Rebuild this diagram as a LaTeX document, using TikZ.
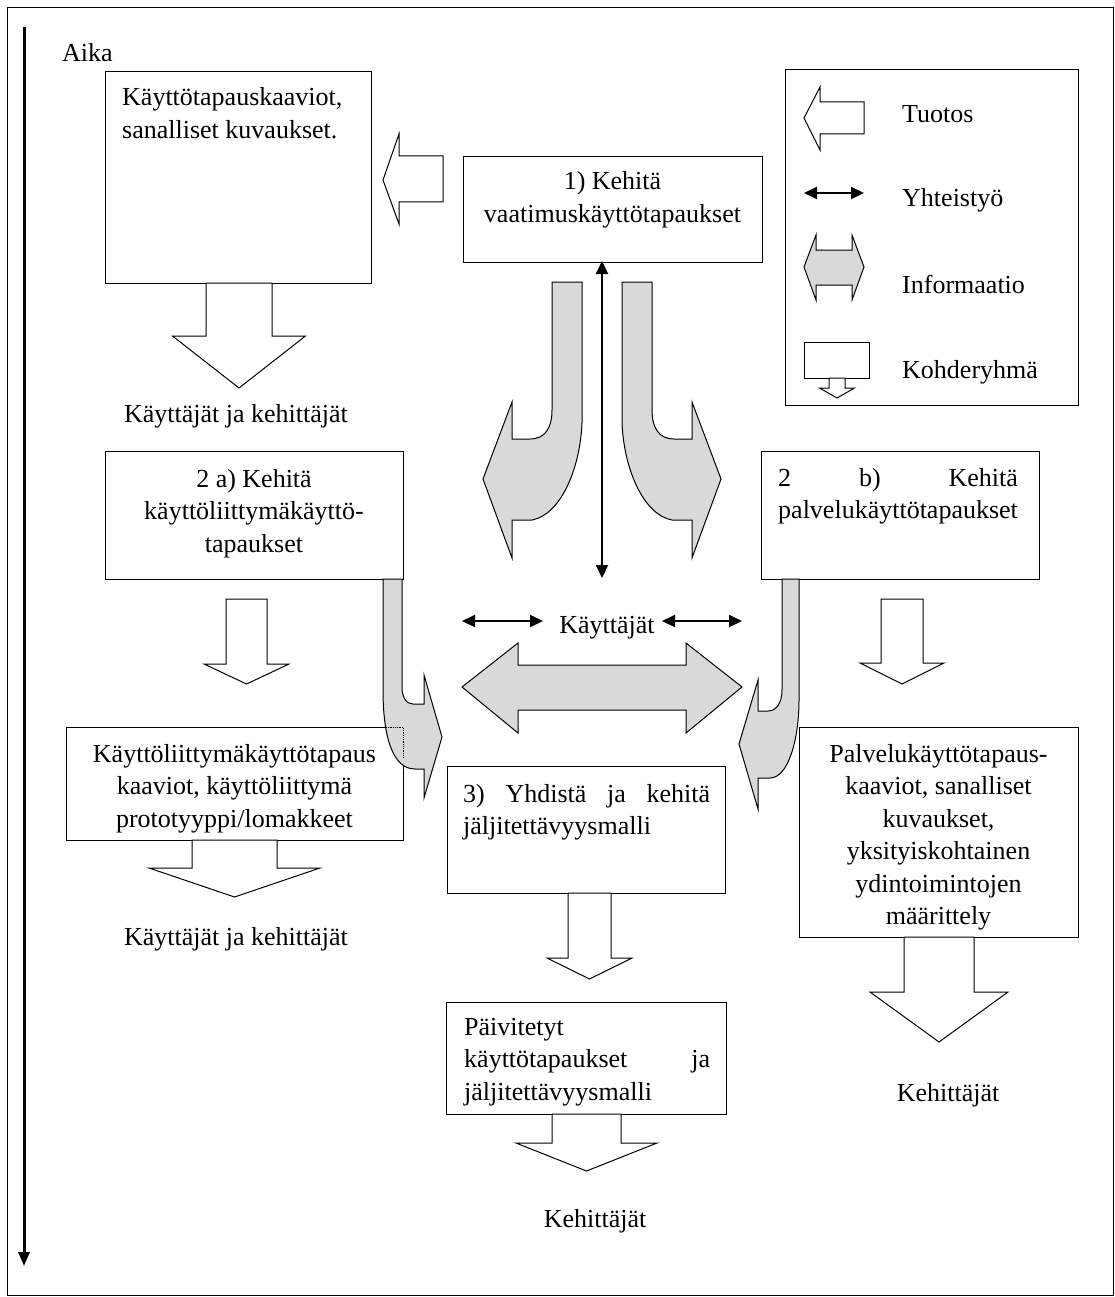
\documentclass[tikz,border=0pt]{standalone}
\usepackage{fontspec}
\setmainfont{Liberation Serif}
\usetikzlibrary{arrows.meta,calc}

% block arrow pointing down: #1 top centre, #2 half shaft width,
% #3 shaft length, #4 half head width, #5 head length
\newcommand{\blockdown}[5]{%
  \draw[blockarrow] ($(#1)+(-#2,0)$) -- ($(#1)+(-#2,#3)$) -- ($(#1)+(-#4,#3)$)
    -- ($(#1)+(0,#3+#5)$) -- ($(#1)+(#4,#3)$) -- ($(#1)+(#2,#3)$)
    -- ($(#1)+(#2,0)$) -- cycle;}

\begin{document}
\begin{tikzpicture}[x=1pt,y=-1pt,
  box/.style={draw,line width=1.1pt,fill=white,inner sep=0pt,anchor=north west},
  lbl/.style={inner sep=0pt,font=\fontsize{26}{32.5}\selectfont},
  blockarrow/.style={draw,line width=1pt,fill=white,line join=miter},
  infoarrow/.style={draw,line width=1pt,fill=gray!30,line join=miter},
  collab/.style={line width=2pt,{Triangle[length=13pt,width=12pt]}-{Triangle[length=13pt,width=12pt]}},
]
\useasboundingbox (0,0) rectangle (1115,1297);
\fill[white] (0,0) rectangle (1115,1297);
\draw[line width=1pt] (7,8) rectangle (1113,1295);

% time axis
\coordinate (t0) at (24,27);
\coordinate (t1) at (24,1266);
\draw[line width=3pt,-{Triangle[length=14pt,width=11pt]}] (t0) -- (t1);
\node[lbl,anchor=base west] (aika) at (62,62) {Aika};

% boxes
\node[box,minimum width=266pt,minimum height=212pt] (boxA) at (105,71) {};
\node[box,minimum width=299pt,minimum height=106pt] (box1) at (463,156) {};
\node[box,minimum width=298pt,minimum height=128pt] (box2a) at (105,451) {};
\node[box,minimum width=278pt,minimum height=128pt] (box2b) at (761,451) {};
\node[box,minimum width=337pt,minimum height=113pt] (boxUI) at (66,727) {};
\node[box,minimum width=278pt,minimum height=127pt] (box3) at (447,766) {};
\node[box,minimum width=279pt,minimum height=210pt] (boxPal) at (799,727) {};
\node[box,minimum width=280pt,minimum height=112pt] (boxUpd) at (446,1002) {};
\node[box,minimum width=293pt,minimum height=336pt] (legend) at (785,69) {};

% box texts
\node[lbl,anchor=base west] (txtA) at (122,106)
  {\begin{tabular}[t]{@{}l@{}}Käyttötapauskaaviot,\\sanalliset kuvaukset.\end{tabular}};
\node[lbl,anchor=base] (txt1) at (612.5,190)
  {\begin{tabular}[t]{@{}c@{}}1) Kehitä\\vaatimuskäyttötapaukset\end{tabular}};
\node[lbl,anchor=base] (txt2a) at (254,487)
  {\begin{tabular}[t]{@{}c@{}}2 a) Kehitä\\käyttöliittymäkäyttö-\\tapaukset\end{tabular}};
\node[lbl,anchor=base west] (txt2b) at (778,486)
  {\setbox0\hbox{palvelukäyttötapaukset}%
   \begin{tabular}[t]{@{}l@{}}\makebox[\wd0][s]{2\hfill b)\hfill Kehitä}\\\box0\end{tabular}};
\node[lbl,anchor=base] (txtUI) at (234.5,762)
  {\begin{tabular}[t]{@{}c@{}}Käyttöliittymäkäyttötapaus\\kaaviot, käyttöliittymä\\prototyyppi/lomakkeet\end{tabular}};
\node[lbl,anchor=base west] (txt3) at (463,802)
  {\begin{tabular}[t]{@{}l@{}}\makebox[247pt][s]{3)\hfill Yhdistä\hfill ja\hfill kehitä}\\jäljitettävyysmalli\end{tabular}};
\node[lbl,anchor=base] (txtPal) at (938.5,762)
  {\begin{tabular}[t]{@{}c@{}}Palvelukäyttötapaus-\\kaaviot, sanalliset\\kuvaukset,\\yksityiskohtainen\\ydintoimintojen\\määrittely\end{tabular}};
\node[lbl,anchor=base west] (txtUpd) at (464,1035)
  {\begin{tabular}[t]{@{}l@{}}Päivitetyt\\\makebox[246pt][s]{käyttötapaukset\hfill ja}\\jäljitettävyysmalli\end{tabular}};

% target group labels
\node[lbl,anchor=base] (grpA) at (236,422) {Käyttäjät ja kehittäjät};
\node[lbl,anchor=base] (grpUI) at (236,945) {Käyttäjät ja kehittäjät};
\node[lbl,anchor=base] (grpPal) at (948,1101) {Kehittäjät};
\node[lbl,anchor=base] (grpUpd) at (595,1227) {Kehittäjät};
\node[lbl,anchor=base] (kay) at (607,633) {Käyttäjät};

% output arrow from step 1 to its results
\draw[blockarrow] (443,156) -- (399,156) -- (399,134) -- (383,180) -- (399,224)
  -- (399,202) -- (443,202) -- cycle;

% target group arrows
\coordinate (dA) at (239,283);
\coordinate (d2a) at (246.5,599);
\coordinate (dUI) at (234.5,840);
\coordinate (d2b) at (902,599);
\coordinate (dPal) at (939,937);
\coordinate (d3) at (589.5,893);
\coordinate (dUpd) at (586.5,1114);
\blockdown{dA}{33}{53}{66.5}{52}
\blockdown{d2a}{20.5}{65}{42.5}{20}
\blockdown{dUI}{42.5}{28}{85.5}{29}
\blockdown{d2b}{21}{64}{42}{21}
\blockdown{dPal}{35}{55}{69}{50}
\blockdown{d3}{21.5}{65}{42.5}{21}
\blockdown{dUpd}{34.5}{29}{70.5}{28}

% information flow from step 1 towards steps 2 a) and 2 b)
\draw[infoarrow] (552,282) -- (552,410) .. controls (552,428) and (545,439) .. (530,439)
  -- (512,439) -- (512,402) -- (483,479) -- (512,558) -- (512,520) -- (532,520)
  .. controls (560,515) and (580,470) .. (582,423) -- (582,282) -- cycle;
\draw[infoarrow] (652,282) -- (652,410) .. controls (652,428) and (659,439) .. (674,439)
  -- (692,439) -- (692,402) -- (721,479) -- (692,558) -- (692,520) -- (672,520)
  .. controls (644,515) and (624,470) .. (622,423) -- (622,282) -- cycle;

% information flow from steps 2 a) and 2 b) towards step 3
\draw[infoarrow] (383,579) -- (383,690) .. controls (383,735) and (392,769) .. (415,769)
  -- (424,769) -- (424,798) -- (442,737) -- (424,675) -- (424,704) -- (413,704)
  .. controls (406,704) and (402,697) .. (402,687) -- (402,579) -- cycle;
\draw[densely dotted,line width=0.8pt] (386,727) -- (403,727) -- (403,758);
\draw[infoarrow] (799,579) -- (799,700) .. controls (799,740) and (788,778) .. (770,778)
  -- (758,778) -- (758,809) -- (739,744) -- (758,680) -- (758,711) -- (768,711)
  .. controls (777,711) and (782,702) .. (782,690) -- (782,579) -- cycle;

% information exchange between 2 a) and 2 b)
\draw[infoarrow] (462,687) -- (518,643) -- (518,665) -- (686,665) -- (686,643)
  -- (742,687) -- (686,733) -- (686,710) -- (518,710) -- (518,733) -- cycle;

% collaboration arrows
\coordinate (v1) at (602,261);
\coordinate (v2) at (602,578);
\draw[collab] (v1) -- (v2);
\coordinate (kL1) at (462,621);
\coordinate (kL2) at (543,621);
\coordinate (kR1) at (662,621);
\coordinate (kR2) at (742,621);
\draw[collab] (kL1) -- (kL2);
\draw[collab] (kR1) -- (kR2);

% legend
\draw[blockarrow] (864,102) -- (820,102) -- (820,87) -- (804,118) -- (820,150)
  -- (820,134) -- (864,134) -- cycle;
\node[lbl,anchor=base west] (lgTuotos) at (902,123) {Tuotos};
\coordinate (lc1) at (804,193);
\coordinate (lc2) at (864,193);
\draw[collab] (lc1) -- (lc2);
\node[lbl,anchor=base west] (lgYht) at (902,207) {Yhteistyö};
\draw[infoarrow] (804,267) -- (816,235) -- (816,250) -- (852,250) -- (852,235)
  -- (864,267) -- (852,300) -- (852,285) -- (816,285) -- (816,300) -- cycle;
\node[lbl,anchor=base west] (lgInfo) at (902,293) {Informaatio};
\draw[blockarrow] (804,342) rectangle (869,378);
\coordinate (lk) at (837,378);
\blockdown{lk}{8}{10}{17.5}{10}
\node[lbl,anchor=base west] (lgKoh) at (902,378) {Kohderyhmä};
\end{tikzpicture}
\end{document}
